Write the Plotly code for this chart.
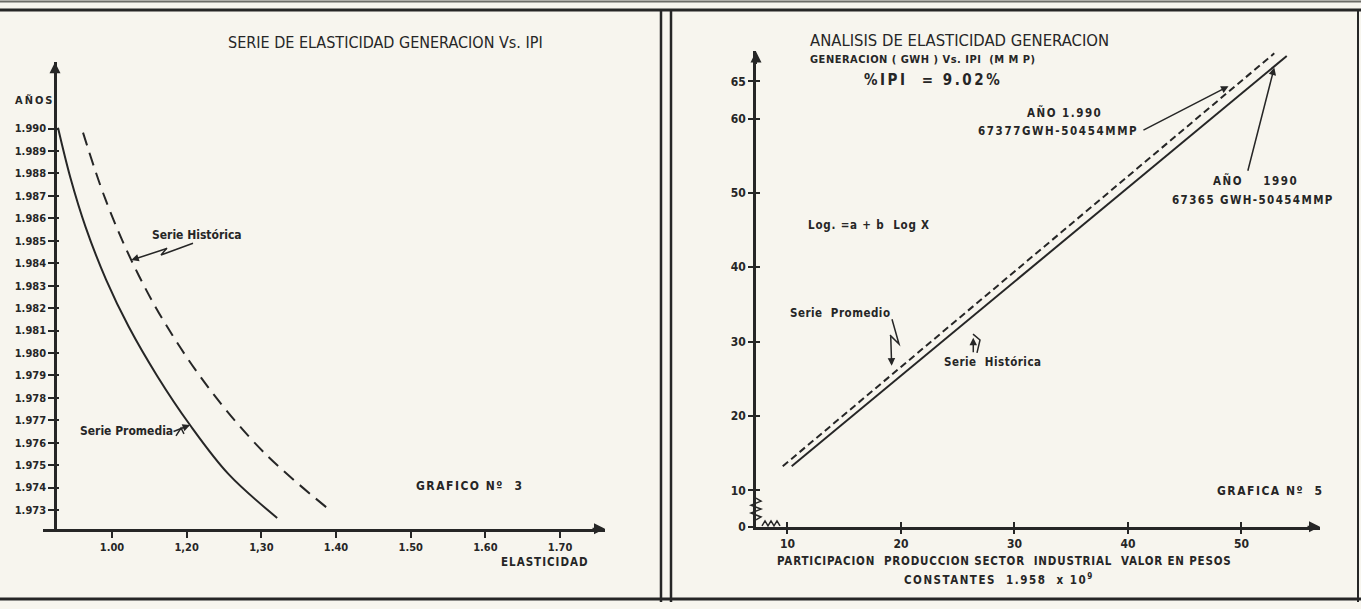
import plotly.graph_objects as go

W, H = 1361, 609
INK = "#262626"
PAPER_BG = "#f7f5ee"
FONT = "DejaVu Sans Condensed"

# ---------------- Gráfico Nº 3: años vs elasticidad ----------------
ANIOS_PROMEDIA = [1990.04, 1987.80, 1985.60, 1983.26, 1981.19, 1978.99,
                  1976.79, 1974.59, 1972.65]
ELAST_PROMEDIA = [1.0277, 1.0444, 1.0648, 1.0922, 1.1221, 1.1603,
                  1.2045, 1.2564, 1.3212]
ANIOS_HISTORICA = [1989.82, 1986.92, 1984.14, 1981.41, 1978.42, 1975.55, 1973.09]
ELAST_HISTORICA = [1.0612, 1.0904, 1.1258, 1.1695, 1.2300, 1.3040, 1.3883]
ANIOS_TICKS = [1973, 1974, 1975, 1976, 1977, 1978, 1979, 1980, 1981,
               1982, 1983, 1984, 1985, 1986, 1987, 1988, 1989, 1990]
ANIOS_TEXT = ["1.973", "1.974", "1.975", "1.976", "1.977", "1.978", "1.979",
              "1.980", "1.981", "1.982", "1.983", "1.984", "1.985", "1.986",
              "1.987", "1.988", "1.989", "1.990"]
ELAST_TICKS = [1.1, 1.2, 1.3, 1.4, 1.5, 1.6, 1.7]
ELAST_TEXT = ["1.00", "1,20", "1,30", "1.40", "1.50", "1.60", "1.70"]
ELAST_RANGE = [1.0076, 1.7602]
ANIOS_RANGE = [1972.163, 1992.956]

# ---------------- Gráfica Nº 5: generación vs IPI ----------------
IPI_HISTORICA = [10.37, 53.99]
GEN_HISTORICA = [13.23, 68.42]
IPI_PROMEDIO = [9.58, 52.89]
GEN_PROMEDIO = [13.23, 68.78]
GEN_TICKS = [5.08, 10, 20, 30, 40, 50, 60, 65]
GEN_TEXT = ["0", "10", "20", "30", "40", "50", "60", "65"]
IPI_TICKS = [10, 20, 30, 40, 50]
IPI_TEXT = ["10", "20", "30", "40", "50"]
IPI_RANGE = [7.225, 56.92]
GEN_RANGE = [5.08, 69.04]
GEN_1990_PROMEDIO = 67377
GEN_1990_HISTORICA = 67365
IPI_1990 = 50454


def fx(x):
    return x / W


def fy(y):
    return 1 - y / H


def path(points):
    return "M" + " L".join(f"{fx(x):.5f},{fy(y):.5f}" for x, y in points)


def sp(text, ls):
    return f'<span style="letter-spacing:{ls}px">{text}</span>'


fig = go.Figure()

# left chart curves
fig.add_trace(go.Scatter(x=ELAST_PROMEDIA, y=ANIOS_PROMEDIA, mode="lines",
                         line=dict(color=INK, width=2, shape="spline", smoothing=1.0),
                         xaxis="x", yaxis="y", hoverinfo="skip"))
fig.add_trace(go.Scatter(x=ELAST_HISTORICA, y=ANIOS_HISTORICA, mode="lines",
                         line=dict(color=INK, width=2, shape="spline", smoothing=1.0,
                                   dash="13px,8px"),
                         xaxis="x", yaxis="y", hoverinfo="skip"))
# right chart lines
fig.add_trace(go.Scatter(x=IPI_HISTORICA, y=GEN_HISTORICA, mode="lines",
                         line=dict(color=INK, width=2),
                         xaxis="x2", yaxis="y2", hoverinfo="skip"))
fig.add_trace(go.Scatter(x=IPI_PROMEDIO, y=GEN_PROMEDIO, mode="lines",
                         line=dict(color=INK, width=2, dash="7px,4px"),
                         xaxis="x2", yaxis="y2", hoverinfo="skip"))
# empty traces that carry the overlay axes (inner half of the cross ticks)
fig.add_trace(go.Scatter(x=[None], y=[None], xaxis="x", yaxis="y3", showlegend=False))
fig.add_trace(go.Scatter(x=[None], y=[None], xaxis="x3", yaxis="y4", showlegend=False))

tick_font = dict(family=FONT, size=11, color=INK, weight="bold")
tick_font_r = dict(family=FONT, size=12, color=INK, weight="bold")

base_ax = dict(showgrid=False, zeroline=False, fixedrange=True)

layout = dict(
    width=W, height=H,
    margin=dict(l=0, r=0, t=0, b=0),
    paper_bgcolor=PAPER_BG, plot_bgcolor="rgba(0,0,0,0)",
    showlegend=False,
    xaxis=dict(base_ax, domain=[fx(43), fx(605)], range=ELAST_RANGE, anchor="y",
               showline=True, linecolor=INK, linewidth=2.5,
               tickvals=ELAST_TICKS, ticktext=ELAST_TEXT, ticks="outside",
               ticklen=6, tickwidth=1.5, tickcolor=INK, tickfont=tick_font),
    yaxis=dict(base_ax, domain=[fy(535), fy(63)], range=ANIOS_RANGE, anchor="free",
               position=fx(55), showline=True, linecolor=INK, linewidth=2.5,
               tickvals=ANIOS_TICKS, ticktext=ANIOS_TEXT, ticks="outside",
               ticklen=6, tickwidth=1.5, tickcolor=INK, tickfont=tick_font),
    yaxis3=dict(base_ax, overlaying="y", range=ANIOS_RANGE, anchor="free",
                position=fx(55), showline=False, tickvals=ANIOS_TICKS,
                ticks="inside", ticklen=3, tickwidth=1.5, tickcolor=INK,
                showticklabels=False),
    xaxis2=dict(base_ax, domain=[fx(756), fx(1320)], range=IPI_RANGE, anchor="y2",
                showline=True, linecolor=INK, linewidth=2.5,
                tickvals=IPI_TICKS, ticktext=IPI_TEXT, ticks="outside",
                ticklen=4, tickwidth=1.5, tickcolor=INK, tickfont=tick_font_r),
    yaxis2=dict(base_ax, domain=[fy(533), fy(52)], range=GEN_RANGE, anchor="x2",
                showline=True, linecolor=INK, linewidth=2.5,
                tickvals=GEN_TICKS, ticktext=GEN_TEXT, ticks="outside",
                ticklen=5, tickwidth=1.5, tickcolor=INK, tickfont=tick_font_r),
    xaxis3=dict(base_ax, overlaying="x2", range=IPI_RANGE, anchor="y4",
                showline=False, tickvals=IPI_TICKS, ticks="inside", ticklen=5,
                tickwidth=1.5, tickcolor=INK, showticklabels=False),
    yaxis4=dict(base_ax, overlaying="y2", range=GEN_RANGE, anchor="x3",
                showline=False, tickvals=GEN_TICKS, ticks="inside", ticklen=4,
                tickwidth=1.5, tickcolor=INK, showticklabels=False),
)
fig.update_layout(**layout)

ann = []


def text(t, x, y, size, bold=True, anchor="left", ls=0):
    body = sp(t, ls) if ls else t
    ann.append(dict(text=body, xref="paper", yref="paper", x=fx(x), y=fy(y),
                    xanchor=anchor, yanchor="middle", showarrow=False,
                    font=dict(family=FONT, size=size, color=INK,
                              weight="bold" if bold else "normal")))


# left panel texts
text("SERIE DE ELASTICIDAD GENERACION Vs. IPI", 385, 43, 16, bold=False, anchor="center")
text("AÑOS", 13, 102, 11, ls=2)
text("Serie Histórica", 150, 238, 12)
text("Serie Promedia", 78, 436, 12)
text("GRAFICO Nº  3", 414, 492, 12, ls=1.5)
text("ELASTICIDAD", 545, 569, 11.5, anchor="center", ls=1)

# right panel texts
text("ANALISIS DE ELASTICIDAD GENERACION", 808, 41, 16.5, bold=False)
text("GENERACION ( GWH ) Vs. IPI  (M M P)", 808, 60, 11, ls=0.5)
text("%IPI  = 9.02%", 862, 81, 15, ls=2.5)
text("AÑO 1.990", 1064, 114, 11.5, anchor="center", ls=1.5)
text(f"{GEN_1990_PROMEDIO}GWH-{IPI_1990}MMP", 976, 133, 11.5, ls=1.6)
text("AÑO    1990", 1211, 183, 11.5, ls=1.5)
text(f"{GEN_1990_HISTORICA} GWH-{IPI_1990}MMP", 1170, 202, 11.5, ls=1.4)
text("Log. =a + b  Log X", 806, 228, 11.5, ls=0.8)
text("Serie  Promedio", 788, 317, 11.5, ls=0.5)
text("Serie  Histórica", 942, 366, 11.5, ls=0.5)
text("GRAFICA Nº  5", 1215, 497, 12, ls=1.5)
text("PARTICIPACION  PRODUCCION SECTOR  INDUSTRIAL  VALOR EN PESOS", 1004, 568, 11.5,
     anchor="center", ls=0.8)
text("CONSTANTES  1.958  x 10<sup>9</sup>", 999, 586, 11.5, anchor="center", ls=1.5)


def arrow(x, y, ax, ay, xr, yr, width=1.5, head=2, size=1.0):
    ann.append(dict(x=x, y=y, xref=xr, yref=yr, ax=ax, ay=ay, text="",
                    showarrow=True, arrowhead=head, arrowsize=size,
                    arrowwidth=width, arrowcolor=INK))


# axis arrowheads
arrow(ELAST_RANGE[1], ANIOS_RANGE[0], -14, 0, "x", "y", width=2, size=1.1)
arrow(1.0237, ANIOS_RANGE[1], 0, 14, "x", "y", width=2, size=1.1)
arrow(IPI_RANGE[1], GEN_RANGE[0], -14, 0, "x2", "y2", width=2, size=1.1)
arrow(IPI_RANGE[0], GEN_RANGE[1], 0, 14, "x2", "y2", width=2, size=1.1)

# callout arrows
arrow(ELAST_HISTORICA[2], ANIOS_HISTORICA[2], 37, -12, "x", "y")
arrow(ELAST_PROMEDIA[6], ANIOS_PROMEDIA[6], -18, 7, "x", "y")
arrow(48.86, 64.35, 1142 - 1228.6, 132 - 87.3, "x2", "y2")
arrow(52.89, 66.87, 1247.5 - 1274.3, 173 - 68.3, "x2", "y2")
arrow(19.18, 26.76, -1, -31, "x2", "y2")
arrow(26.37, 30.52, 0, 16, "x2", "y2")

fig.update_layout(annotations=ann)

shapes = []


def seg(points, width=1.5, color=INK):
    shapes.append(dict(type="path", xref="paper", yref="paper", path=path(points),
                       line=dict(color=color, width=width)))


# frame lines
seg([(0, 1.5), (W, 1.5)], width=2, color="#6b6b66")
seg([(0, 10), (W, 10)], width=3)
seg([(661, 10), (661, H)], width=2.5)
seg([(671, 10), (671, H)], width=2.5)
seg([(0, 606), (W, 606)], width=3)
seg([(1358, 10), (1358, H)], width=2)

# leader zigzags
seg([(193, 246), (161, 258), (167, 251)])
seg([(892, 323), (899, 348), (890, 339)])
seg([(977, 357), (980, 344), (973, 338)])
seg([(176, 441), (181, 433), (184, 439)])

# axis break marks on Gráfica 5
seg([(756, 504), (761, 507), (751, 511), (761, 515), (751, 519), (761, 523), (756, 526)], width=1.5)
seg([(762, 532), (765, 527), (768, 532), (771, 527), (774, 532), (777, 527), (780, 532)], width=1.5)

fig.update_layout(shapes=shapes)

fig.write_html("out.html")
